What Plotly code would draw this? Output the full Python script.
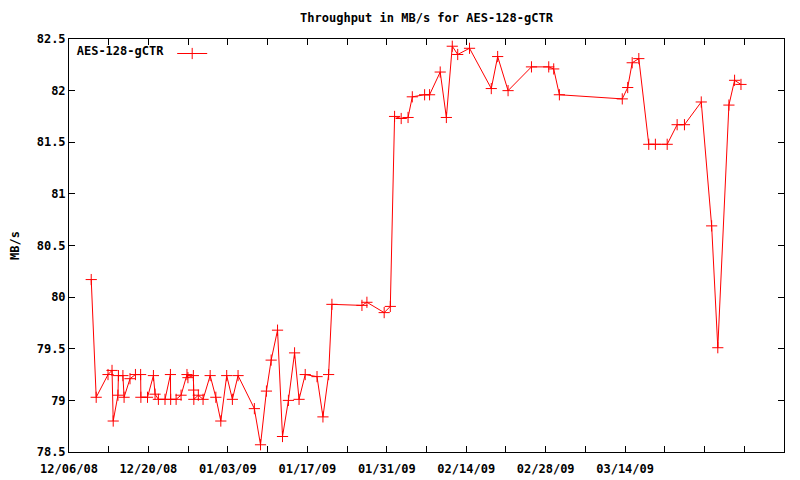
import plotly.graph_objects as go

dates = [
    "2008-12-09 22:00", "2008-12-10 19:00", "2008-12-12 21:00", "2008-12-13 14:00",
    "2008-12-13 19:00", "2008-12-14 15:00", "2008-12-14 17:00", "2008-12-15 12:00",
    "2008-12-15 17:00", "2008-12-16 18:00", "2008-12-17 17:00", "2008-12-18 15:00",
    "2008-12-18 16:00", "2008-12-19 20:00", "2008-12-20 21:00", "2008-12-21 04:00",
    "2008-12-21 18:00", "2008-12-22 22:00", "2008-12-23 21:00", "2008-12-23 22:00",
    "2008-12-24 21:00", "2008-12-25 18:00", "2008-12-26 19:00", "2008-12-26 23:00",
    "2008-12-27 22:00", "2008-12-27 23:00", "2008-12-28 00:00", "2008-12-28 19:00",
    "2008-12-29 15:00", "2008-12-30 21:00", "2008-12-31 21:00", "2009-01-01 18:00",
    "2009-01-02 19:00", "2009-01-03 19:00", "2009-01-04 19:00", "2009-01-07 16:00",
    "2009-01-08 18:00", "2009-01-09 19:00", "2009-01-10 15:00", "2009-01-11 18:00",
    "2009-01-12 15:00", "2009-01-13 16:00", "2009-01-14 18:00", "2009-01-15 13:00",
    "2009-01-16 15:00", "2009-01-18 17:00", "2009-01-19 18:00", "2009-01-20 18:00",
    "2009-01-21 08:00", "2009-01-26 15:00", "2009-01-27 12:00", "2009-01-30 13:00",
    "2009-01-31 15:00", "2009-02-01 09:00", "2009-02-02 13:00", "2009-02-03 18:00",
    "2009-02-04 12:00", "2009-02-06 16:00", "2009-02-07 13:00", "2009-02-09 10:00",
    "2009-02-10 12:00", "2009-02-11 13:00", "2009-02-12 12:00", "2009-02-14 14:00",
    "2009-02-18 10:00", "2009-02-19 13:00", "2009-02-21 09:00", "2009-02-25 12:00",
    "2009-02-28 13:00", "2009-03-01 10:00", "2009-03-02 10:00", "2009-03-13 12:00",
    "2009-03-14 11:00", "2009-03-15 06:00", "2009-03-16 10:00", "2009-03-18 04:00",
    "2009-03-19 08:00", "2009-03-21 10:00", "2009-03-23 04:00", "2009-03-24 11:00",
    "2009-03-27 10:00", "2009-03-29 06:00", "2009-03-30 08:00", "2009-04-01 07:00",
    "2009-04-02 07:00", "2009-04-03 10:00",
]

throughput = [
    80.17, 79.03, 79.25, 79.29,
    78.80, 79.05, 79.24, 79.24,
    79.03, 79.21, 79.25, 79.25,
    79.03, 79.03, 79.24, 79.06,
    79.01, 79.01, 79.25, 79.01,
    79.01, 79.05, 79.25, 79.22,
    79.24, 79.10, 79.01, 79.05,
    79.01, 79.24, 79.03, 78.80,
    79.24, 79.01, 79.24, 78.92,
    78.57, 79.09, 79.39, 79.68,
    78.65, 79.00, 79.46, 79.01,
    79.25, 79.23, 78.84, 79.25,
    79.93, 79.92, 79.95, 79.85,
    79.91, 81.75, 81.73, 81.74,
    81.94, 81.96, 81.96, 82.18,
    81.74, 82.43, 82.35, 82.41,
    82.02, 82.33, 82.00, 82.23,
    82.23, 82.21, 81.96, 81.92,
    82.03, 82.27, 82.31, 81.48,
    81.48, 81.48, 81.67, 81.67,
    81.89, 80.69, 79.51, 81.86,
    82.10, 82.06,
]

series_name = "AES-128-gCTR"
chart_title = "Throughput in MB/s for AES-128-gCTR"
y_title = "MB/s"

x_tick_vals = [
    "2008-12-06", "2008-12-13", "2008-12-20", "2008-12-27", "2009-01-03",
    "2009-01-10", "2009-01-17", "2009-01-24", "2009-01-31", "2009-02-07",
    "2009-02-14", "2009-02-21", "2009-02-28", "2009-03-07", "2009-03-14",
    "2009-03-21", "2009-03-28", "2009-04-04",
]
x_tick_text = [
    "12/06/08", "", "12/20/08", "", "01/03/09",
    "", "01/17/09", "", "01/31/09", "",
    "02/14/09", "", "02/28/09", "", "03/14/09",
    "", "", "",
]
x_range = ["2008-12-06", "2009-04-11"]

y_tick_vals = [78.5, 79, 79.5, 80, 80.5, 81, 81.5, 82, 82.5]
y_tick_text = ["78.5", "79", "79.5", "80", "80.5", "81", "81.5", "82", "82.5"]

FONT = "DejaVu Sans Mono"
TXT = dict(family=FONT, size=12, color="black", weight="bold")

fig = go.Figure()
fig.add_trace(go.Scatter(
    x=dates, y=throughput, mode="lines+markers", name="",
    line=dict(color="#ff0000", width=1),
    marker=dict(symbol="cross-thin", size=8, line=dict(color="#ff0000", width=1), color="#ff0000"),
    showlegend=True,
))

fig.update_layout(
    width=792, height=472,
    margin=dict(l=61, r=16, t=31, b=28, autoexpand=False),
    paper_bgcolor="white", plot_bgcolor="white",
    font=TXT,
    title=dict(text=chart_title, x=0.5, xref="paper", xanchor="center",
               y=0.979, yref="container", yanchor="middle", font=TXT),
    showlegend=True,
    legend=dict(
        x=0.008, y=1.0, xanchor="left", yanchor="top",
        bgcolor="rgba(0,0,0,0)", borderwidth=0,
        title=dict(text=series_name, side="left", font=TXT),
        font=TXT,
        itemwidth=30,
    ),
    xaxis=dict(
        type="date", range=x_range, automargin=False,
        tickmode="array", tickvals=x_tick_vals, ticktext=x_tick_text,
        ticks="inside", ticklen=6, tickcolor="black", tickwidth=1,
        showline=True, linecolor="black", linewidth=1, mirror="ticks",
        showgrid=False, zeroline=False,
        tickfont=TXT, ticklabelstandoff=6,
    ),
    yaxis=dict(
        range=[78.5, 82.5], automargin=False,
        tickmode="array", tickvals=y_tick_vals, ticktext=y_tick_text,
        ticks="inside", ticklen=6, tickcolor="black", tickwidth=1,
        showline=True, linecolor="black", linewidth=1, mirror="ticks",
        showgrid=False, zeroline=False,
        tickfont=TXT,
        title=dict(text=y_title, standoff=19, font=TXT),
    ),
)

fig.write_html("out.html")
